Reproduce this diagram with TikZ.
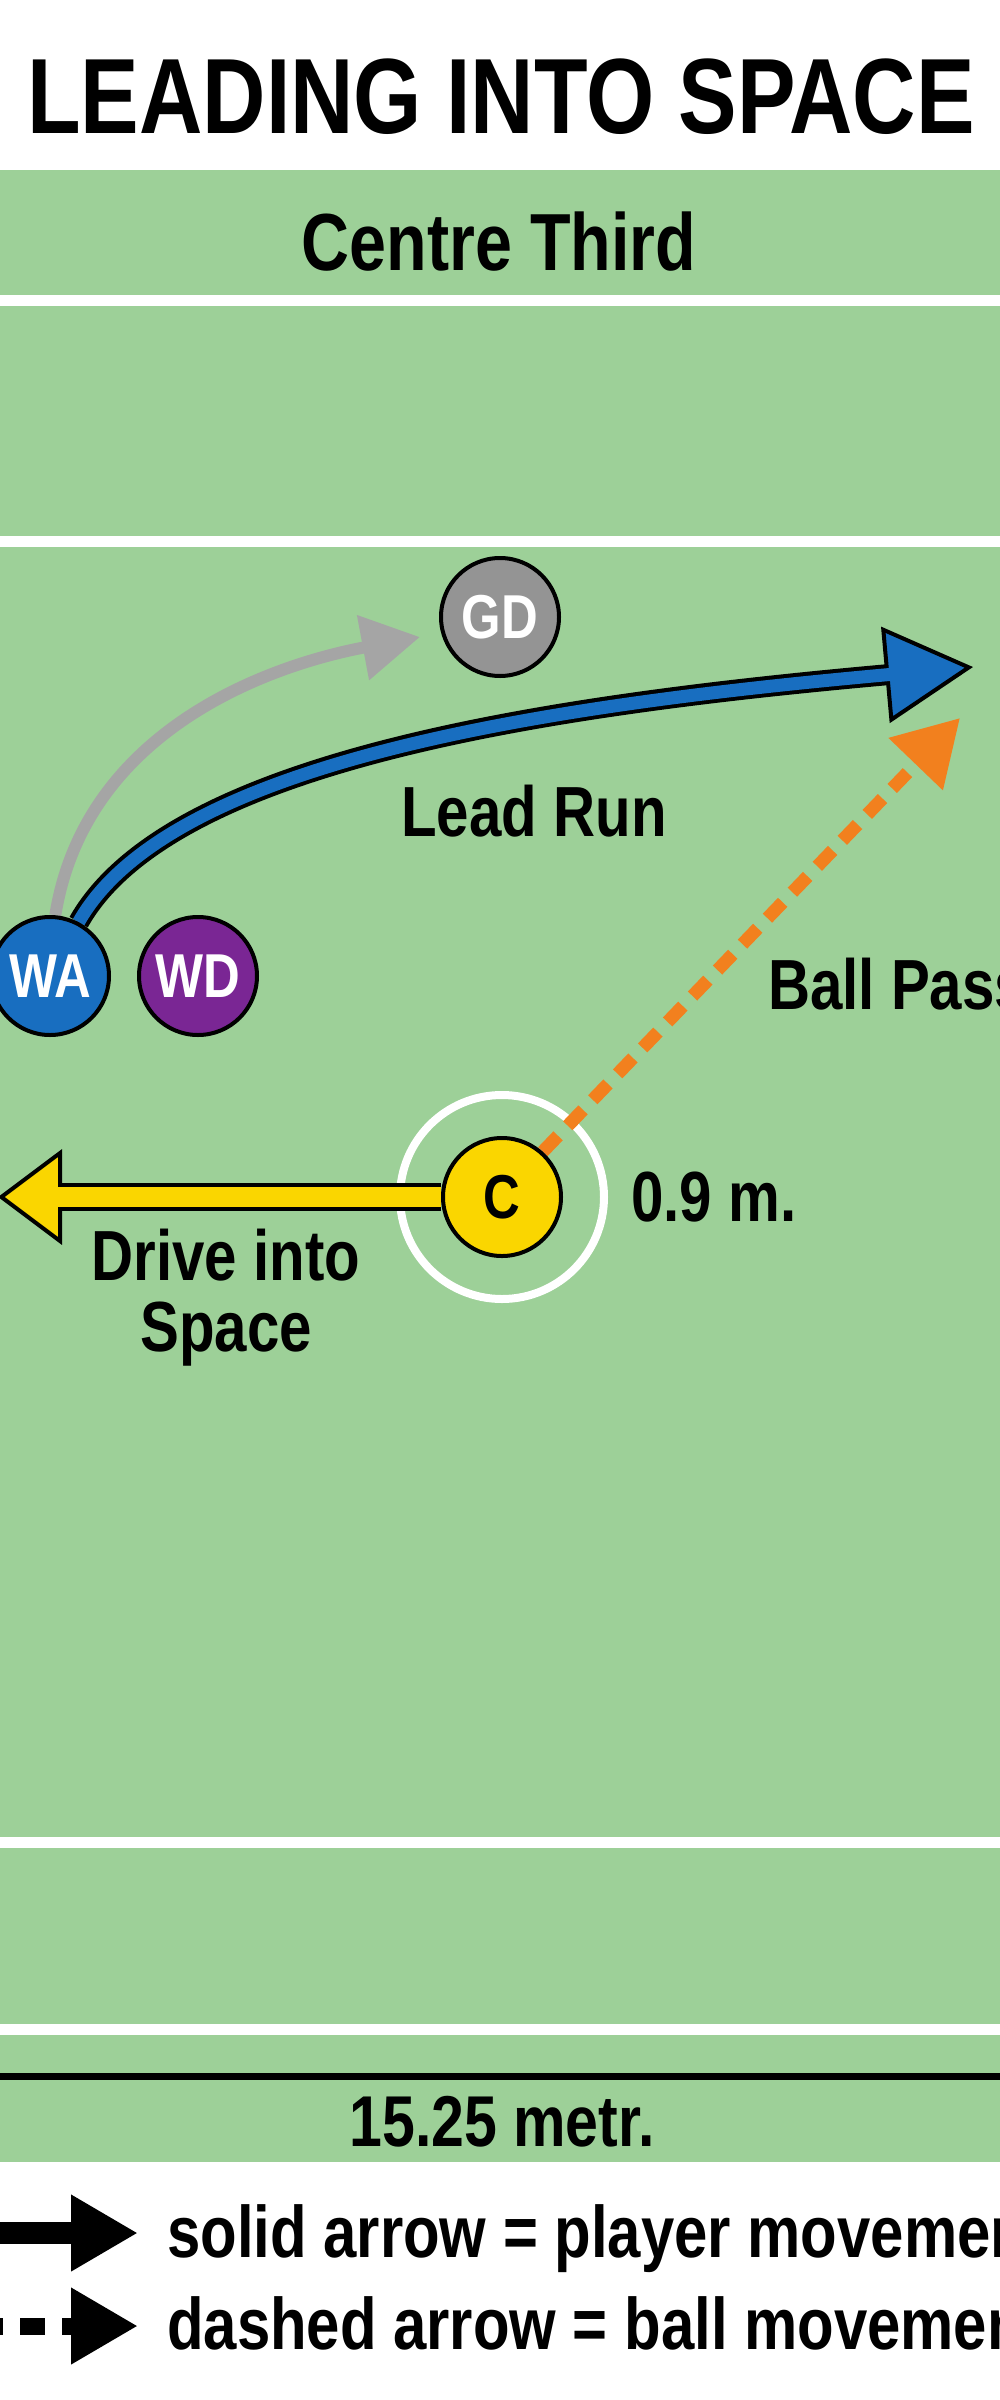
\documentclass[tikz,border=0pt]{standalone}
\usepackage{fontspec}
\setmainfont[FakeStretch=0.82]{Liberation Sans}
\usepackage{tikz}
\usetikzlibrary{arrows.meta, positioning, backgrounds}
\definecolor{pitchgreen}{RGB}{157,208,152}
\definecolor{wablue}{RGB}{24,110,192}
\definecolor{wdpurple}{RGB}{122,38,148}
\definecolor{gdgray}{RGB}{148,148,148}
\definecolor{cutgray}{RGB}{165,165,165}
\definecolor{cyellow}{RGB}{250,214,0}
\definecolor{passorange}{RGB}{242,128,30}

\begin{document}
\begin{tikzpicture}[
            x=1pt, y=-1pt,
            player/.style={circle, draw=black, line width=4pt, minimum size=118pt, inner sep=0pt, text=white, font=\fontsize{62}{62}\selectfont\bfseries},
            pitchtext/.style={inner sep=0pt, anchor=base, font=\fontsize{71}{71}\selectfont\bfseries},
            keytext/.style={inner sep=0pt, anchor=base west, font=\fontsize{73}{73}\selectfont\bfseries},
            courtline/.style={white, line width=11pt},
            keyarrow/.style={black, line width=22pt, -{Triangle[length=67pt, width=72pt]}}
        ]
            \useasboundingbox (0,0) rectangle (1000,2400);

            \node[inner sep=0pt, anchor=base, font=\fontsize{107}{107}\selectfont\bfseries] (title) at (501,134) {LEADING INTO SPACE};
            \node[pitchtext, font=\fontsize{81}{81}\selectfont\bfseries] (third) at (499,270) {Centre Third};

            \node[player, fill=gdgray] (gd) at (500,617) {GD};
            \node[player, fill=wablue] (wa) at (50,976) {WA};
            \node[player, fill=wdpurple] (wd) at (198,976) {WD};
            \node[player, fill=cyellow, text=black] (c) at (502,1197) {C};

            \node[pitchtext] (leadrun) at (534,836) {Lead Run};
            \node[pitchtext, anchor=base west] (ballpass) at (768,1009) {Ball Pass};
            \node[pitchtext, anchor=base west] (radius) at (631,1221) {0.9 m.};
            \node[pitchtext] (drive) at (226,1280) {Drive into};
            \node[pitchtext] (space) at (226,1351) {Space};
            \node[pitchtext, font=\fontsize{72}{72}\selectfont\bfseries] (width) at (502,2146) {15.25 metr.};

            \coordinate (cuttip) at (420,637);
            \coordinate (leadtip) at (973,667);
            \coordinate (passtip) at (960,718);
            \coordinate (drivetip) at (-2,1197);
            \coordinate (solidstart) at (-10,2233);
            \coordinate (solidtip) at (138,2233);
            \coordinate (dashstart) at (-22,2326);
            \coordinate (dashtip) at (138,2326);

            \node[keytext] (solidkey) at (167,2257) {solid arrow = player movement};
            \node[keytext] (dashkey) at (167,2349) {dashed arrow = ball movement};

            \begin{scope}[on background layer]
                \fill[white] (0,0) rectangle (1000,2400);
                \fill[pitchgreen] (0,170) rectangle (1000,2162);
                \foreach \y in {300.5, 541.5, 1842, 2029}
                    \draw[courtline] (0,\y) -- (1000,\y);
                \draw[black, line width=7pt] (0,2076.5) -- (1000,2076.5);
                \draw[white, line width=8pt] (c) circle[radius=102pt];

                % player runs
                \draw[cutgray, line width=12pt, -{Triangle[length=58pt, width=63pt]}] (wa.85) .. controls (85,730) and (270,665) .. (cuttip);
                \draw[black, line width=21pt, -{Triangle[length=88pt, width=96pt, fill=wablue, line width=4pt]}] (wa.62) .. controls (170,760) and (550,705) .. (leadtip);
                \draw[wablue, line width=13pt, shorten >=80pt] (wa.62) .. controls (170,760) and (550,705) .. (leadtip);
                \draw[black, line width=28pt, -{Triangle[length=64pt, width=95pt, fill=cyellow, line width=4pt]}] (c.west) -- (drivetip);
                \draw[cyellow, line width=20pt, shorten >=58pt] (c.west) -- (drivetip);

                % ball pass
                \draw[passorange, line width=13pt, dash pattern=on 22pt off 14pt, -{Triangle[length=64pt, width=72pt]}] (c.48) -- (passtip);

                % key
                \draw[keyarrow] (solidstart) -- (solidtip);
                \draw[keyarrow, line width=17pt, dash pattern=on 25pt off 17pt] (dashstart) -- (dashtip);
            \end{scope}
        \end{tikzpicture}
\end{document}
